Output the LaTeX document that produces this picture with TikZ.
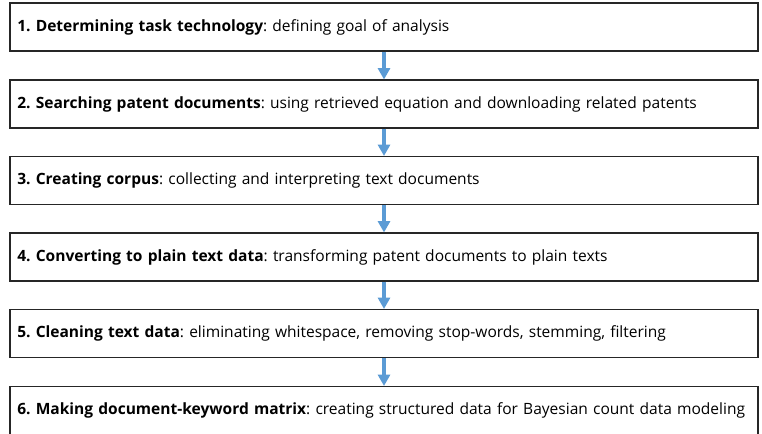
\documentclass[tikz,border=0pt]{standalone}
\usepackage{fontspec}
\setmainfont{Open Sans}
\usepackage{tikz}
\usetikzlibrary{arrows.meta, positioning}
\definecolor{flowblue}{RGB}{91,155,213}
\frenchspacing

\begin{document}
\begin{tikzpicture}[x=0.75pt, y=-0.75pt,
		stepbox/.style={draw=black!85, line width=0.8pt, minimum width=561pt, minimum height=36pt,
			text width=550pt, inner xsep=4.5pt, align=left, font=\fontsize{11.65}{13}\selectfont},
		flow/.style={flowblue, line width=2.4pt, -{Triangle[width=9pt, length=8.5pt]}}]
		% Frame
		\useasboundingbox (0,0) rectangle (762,434);
		% Steps
		\node[stepbox] (s1) at (384,27) {\textbf{1. Determining task technology}: defining goal of analysis};
		\node[stepbox] (s2) at (384,104) {\textbf{2. Searching patent documents}: using retrieved equation and downloading related patents};
		\node[stepbox] (s3) at (384,180.5) {\textbf{3. Creating corpus}: collecting and interpreting text documents};
		\node[stepbox] (s4) at (384,257) {\textbf{4. Converting to plain text data}: transforming patent documents to plain texts};
		\node[stepbox] (s5) at (384,333.5) {\textbf{5. Cleaning text data}: eliminating whitespace, removing stop-words, stemming, filtering};
		\node[stepbox] (s6) at (384,410.5) {\textbf{6. Making document-keyword matrix}: creating structured data for Bayesian count data modeling};

		% Arrows
		\draw[flow] (s1.south) -- (s2.north);
		\draw[flow] (s2.south) -- (s3.north);
		\draw[flow] (s3.south) -- (s4.north);
		\draw[flow] (s4.south) -- (s5.north);
		\draw[flow] (s5.south) -- (s6.north);
	\end{tikzpicture}
\end{document}
